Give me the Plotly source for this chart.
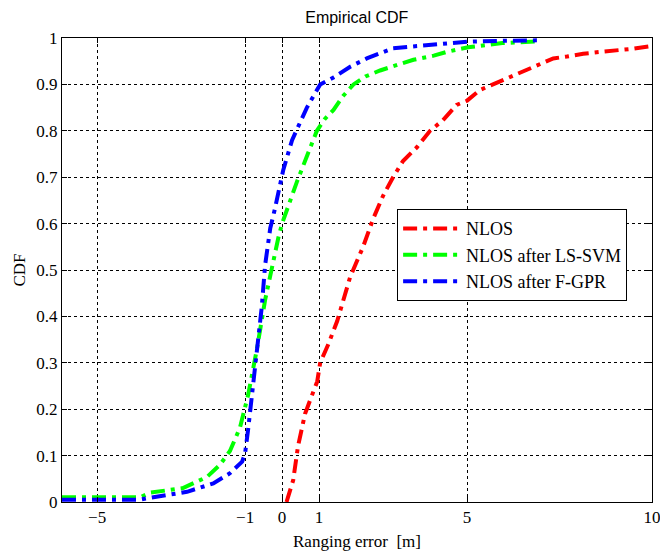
import plotly.graph_objects as go

# Empirical CDF samples of ranging error (m)
nlos_x = [0.12, 0.2, 0.3, 0.43, 0.62, 0.76, 0.95, 1.03, 1.25, 1.49, 1.84, 2.19, 2.46, 2.73, 3.0,
          3.27, 3.65, 4.0, 4.35, 4.72, 5.0, 5.35, 5.7, 6.07, 6.4, 6.79, 7.05, 7.33, 7.7, 8.14,
          8.6, 9.05, 9.5, 9.95, 10.3]
nlos_y = [0.0, 0.02, 0.047, 0.12, 0.19, 0.22, 0.26, 0.30, 0.34, 0.39, 0.485, 0.55, 0.61, 0.66,
          0.70, 0.735, 0.765, 0.80, 0.823, 0.856, 0.865, 0.888, 0.90, 0.913, 0.925, 0.938, 0.945,
          0.956, 0.96, 0.966, 0.97, 0.973, 0.977, 0.982, 0.985]

svm_x = [-5.95, -3.84, -3.57, -3.1, -2.68, -2.03, -1.68, -1.41, -1.14, -0.92, -0.68, -0.46, -0.27,
         -0.1, 0.0, 0.17, 0.4, 0.67, 0.94, 1.15, 1.39, 1.65, 1.93, 2.25, 2.65, 3.19, 3.55, 4.1,
         4.45, 5.03, 5.5, 5.95, 6.97]
svm_y = [0.01, 0.01, 0.02, 0.025, 0.03, 0.054, 0.08, 0.11, 0.16, 0.23, 0.33, 0.435, 0.51, 0.57,
         0.60, 0.64, 0.69, 0.745, 0.80, 0.825, 0.845, 0.875, 0.90, 0.917, 0.93, 0.944, 0.953,
         0.962, 0.97, 0.98, 0.985, 0.989, 0.993]

gpr_x = [-5.95, -3.84, -3.57, -3.1, -2.57, -1.86, -1.41, -1.08, -1.0, -0.92, -0.81, -0.68, -0.55,
         -0.46, -0.32, -0.2, -0.1, 0.03, 0.27, 0.49, 0.67, 1.03, 1.39, 1.84, 2.29, 3.0, 3.65,
         4.46, 5.0, 6.0, 6.97]
gpr_y = [0.005, 0.005, 0.009, 0.015, 0.022, 0.04, 0.062, 0.087, 0.105, 0.155, 0.23, 0.33, 0.42,
         0.51, 0.59, 0.63, 0.67, 0.715, 0.78, 0.82, 0.85, 0.90, 0.915, 0.938, 0.956, 0.978,
         0.982, 0.987, 0.992, 0.994, 0.995]

x_ticks = [-5, -1, 0, 1, 5, 10]
y_ticks = [0, 0.1, 0.2, 0.3, 0.4, 0.5, 0.6, 0.7, 0.8, 0.9, 1]
y_tick_text = ["0", "0.1", "0.2", "0.3", "0.4", "0.5", "0.6", "0.7", "0.8", "0.9", "1"]

dashdot = "14px,6px,4px,6px"
serif = "Liberation Serif, Times New Roman, serif"

fig = go.Figure()
series = [
    ("NLOS", nlos_x, nlos_y, "#ff0000"),
    ("NLOS after LS-SVM", svm_x, svm_y, "#00ff00"),
    ("NLOS after F-GPR", gpr_x, gpr_y, "#0000ff"),
]
for name, xs, ys, color in series:
    fig.add_trace(go.Scatter(x=xs, y=ys, mode="lines", name=name,
                             line=dict(color=color, width=4, dash=dashdot)))

axis_common = dict(
    showline=True, linecolor="black", linewidth=1, mirror="ticks",
    ticks="inside", ticklen=5, tickcolor="black",
    showgrid=True, gridcolor="black", gridwidth=1, griddash="dot",
    zeroline=False, tickfont=dict(family=serif, size=17, color="black"),
    ticklabeloverflow="allow", automargin=False,
)

fig.update_xaxes(range=[-5.95, 10], tickvals=x_ticks,
                 title=dict(text="Ranging error  [m]", font=dict(family=serif, size=17, color="black"),
                            standoff=8),
                 **axis_common)
fig.update_yaxes(range=[0, 1], tickvals=y_ticks, ticktext=y_tick_text,
                 title=dict(text="CDF", font=dict(family=serif, size=17, color="black"), standoff=6),
                 **axis_common)

fig.update_layout(
    width=660, height=556,
    margin=dict(l=62, r=8, t=38, b=54, autoexpand=False),
    paper_bgcolor="white", plot_bgcolor="white",
    title=dict(text="Empirical CDF", x=0.5406, xanchor="center", y=0.968, yanchor="middle",
               font=dict(family="Liberation Sans, Arial, sans-serif", size=16, color="black")),
    legend=dict(x=0.568, y=0.631, xanchor="left", yanchor="top",
                bgcolor="white", bordercolor="black", borderwidth=1,
                font=dict(family=serif, size=18, color="black"),
                tracegroupgap=0, itemwidth=58),
    showlegend=True,
)

fig.write_html("out.html")
